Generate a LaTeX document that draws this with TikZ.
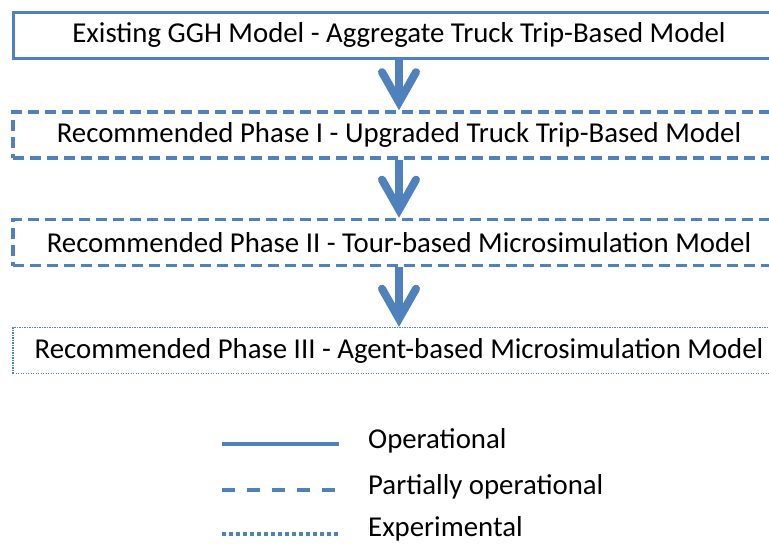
\documentclass[tikz,border=0pt]{standalone}
\usepackage{fontspec}
\setmainfont{Carlito}
\usetikzlibrary{arrows.meta,positioning}
\definecolor{azul}{HTML}{4F81BD}

\tikzset{
  modelo/.style={draw=azul,minimum width=772pt,minimum height=46pt,inner sep=0pt,
    font=\fontsize{28.8}{34}\selectfont},
  operativo/.style={line width=3pt},
  parcial/.style={line width=3.5pt,dash pattern=on 11pt off 6pt},
  experimental/.style={line width=1.3pt,dash pattern=on 1.3pt off 1.2pt},
  flecha/.style={draw=azul,line width=8pt,
    -{Straight Barb[length=30pt,width=34pt,line cap=round,line join=miter]}},
  leyenda/.style={anchor=west,inner sep=0pt,font=\fontsize{28.8}{34}\selectfont},
}

\begin{document}
\begin{tikzpicture}[x=1pt,y=-1pt]
  % Marco de la figura
  \useasboundingbox (0,0) rectangle (769,544);

  % Modelos
  \node[modelo,operativo] (existente) at (399,35)
    {Existing GGH Model - Aggregate Truck Trip-Based Model};
  \node[modelo,parcial] (faseI) at (399,135)
    {Recommended Phase I - Upgraded Truck Trip-Based Model};
  \node[modelo,parcial] (faseII) at (399,242.5)
    {Recommended Phase II - Tour-based Microsimulation Model};
  \node[modelo,experimental] (faseIII) at (399,350.5)
    {Recommended Phase III - Agent-based Microsimulation Model};

  % Flechas entre fases
  \draw[flecha] (existente.south) -- (faseI.north);
  \draw[flecha] (faseI.south) -- (faseII.north);
  \draw[flecha] (faseII.south) -- (faseIII.north);

  % Leyenda
  \node[leyenda] (txtop) at (368,441) {Operational};
  \node[leyenda] (txtpar) at (368,487) {Partially operational};
  \node[leyenda] (txtexp) at (368,529) {Experimental};
  \coordinate (op1) at (222,444);   \coordinate (op2) at (339,444);
  \coordinate (par1) at (222,490);  \coordinate (par2) at (339,490);
  \coordinate (exp1) at (222,534);  \coordinate (exp2) at (339,534);
  \draw[azul,line width=4pt] (op1) -- (op2);
  \draw[azul,line width=4pt,dash pattern=on 13pt off 12pt] (par1) -- (par2);
  \draw[azul,line width=3.5pt,dash pattern=on 3.5pt off 3.5pt] (exp1) -- (exp2);
\end{tikzpicture}
\end{document}
